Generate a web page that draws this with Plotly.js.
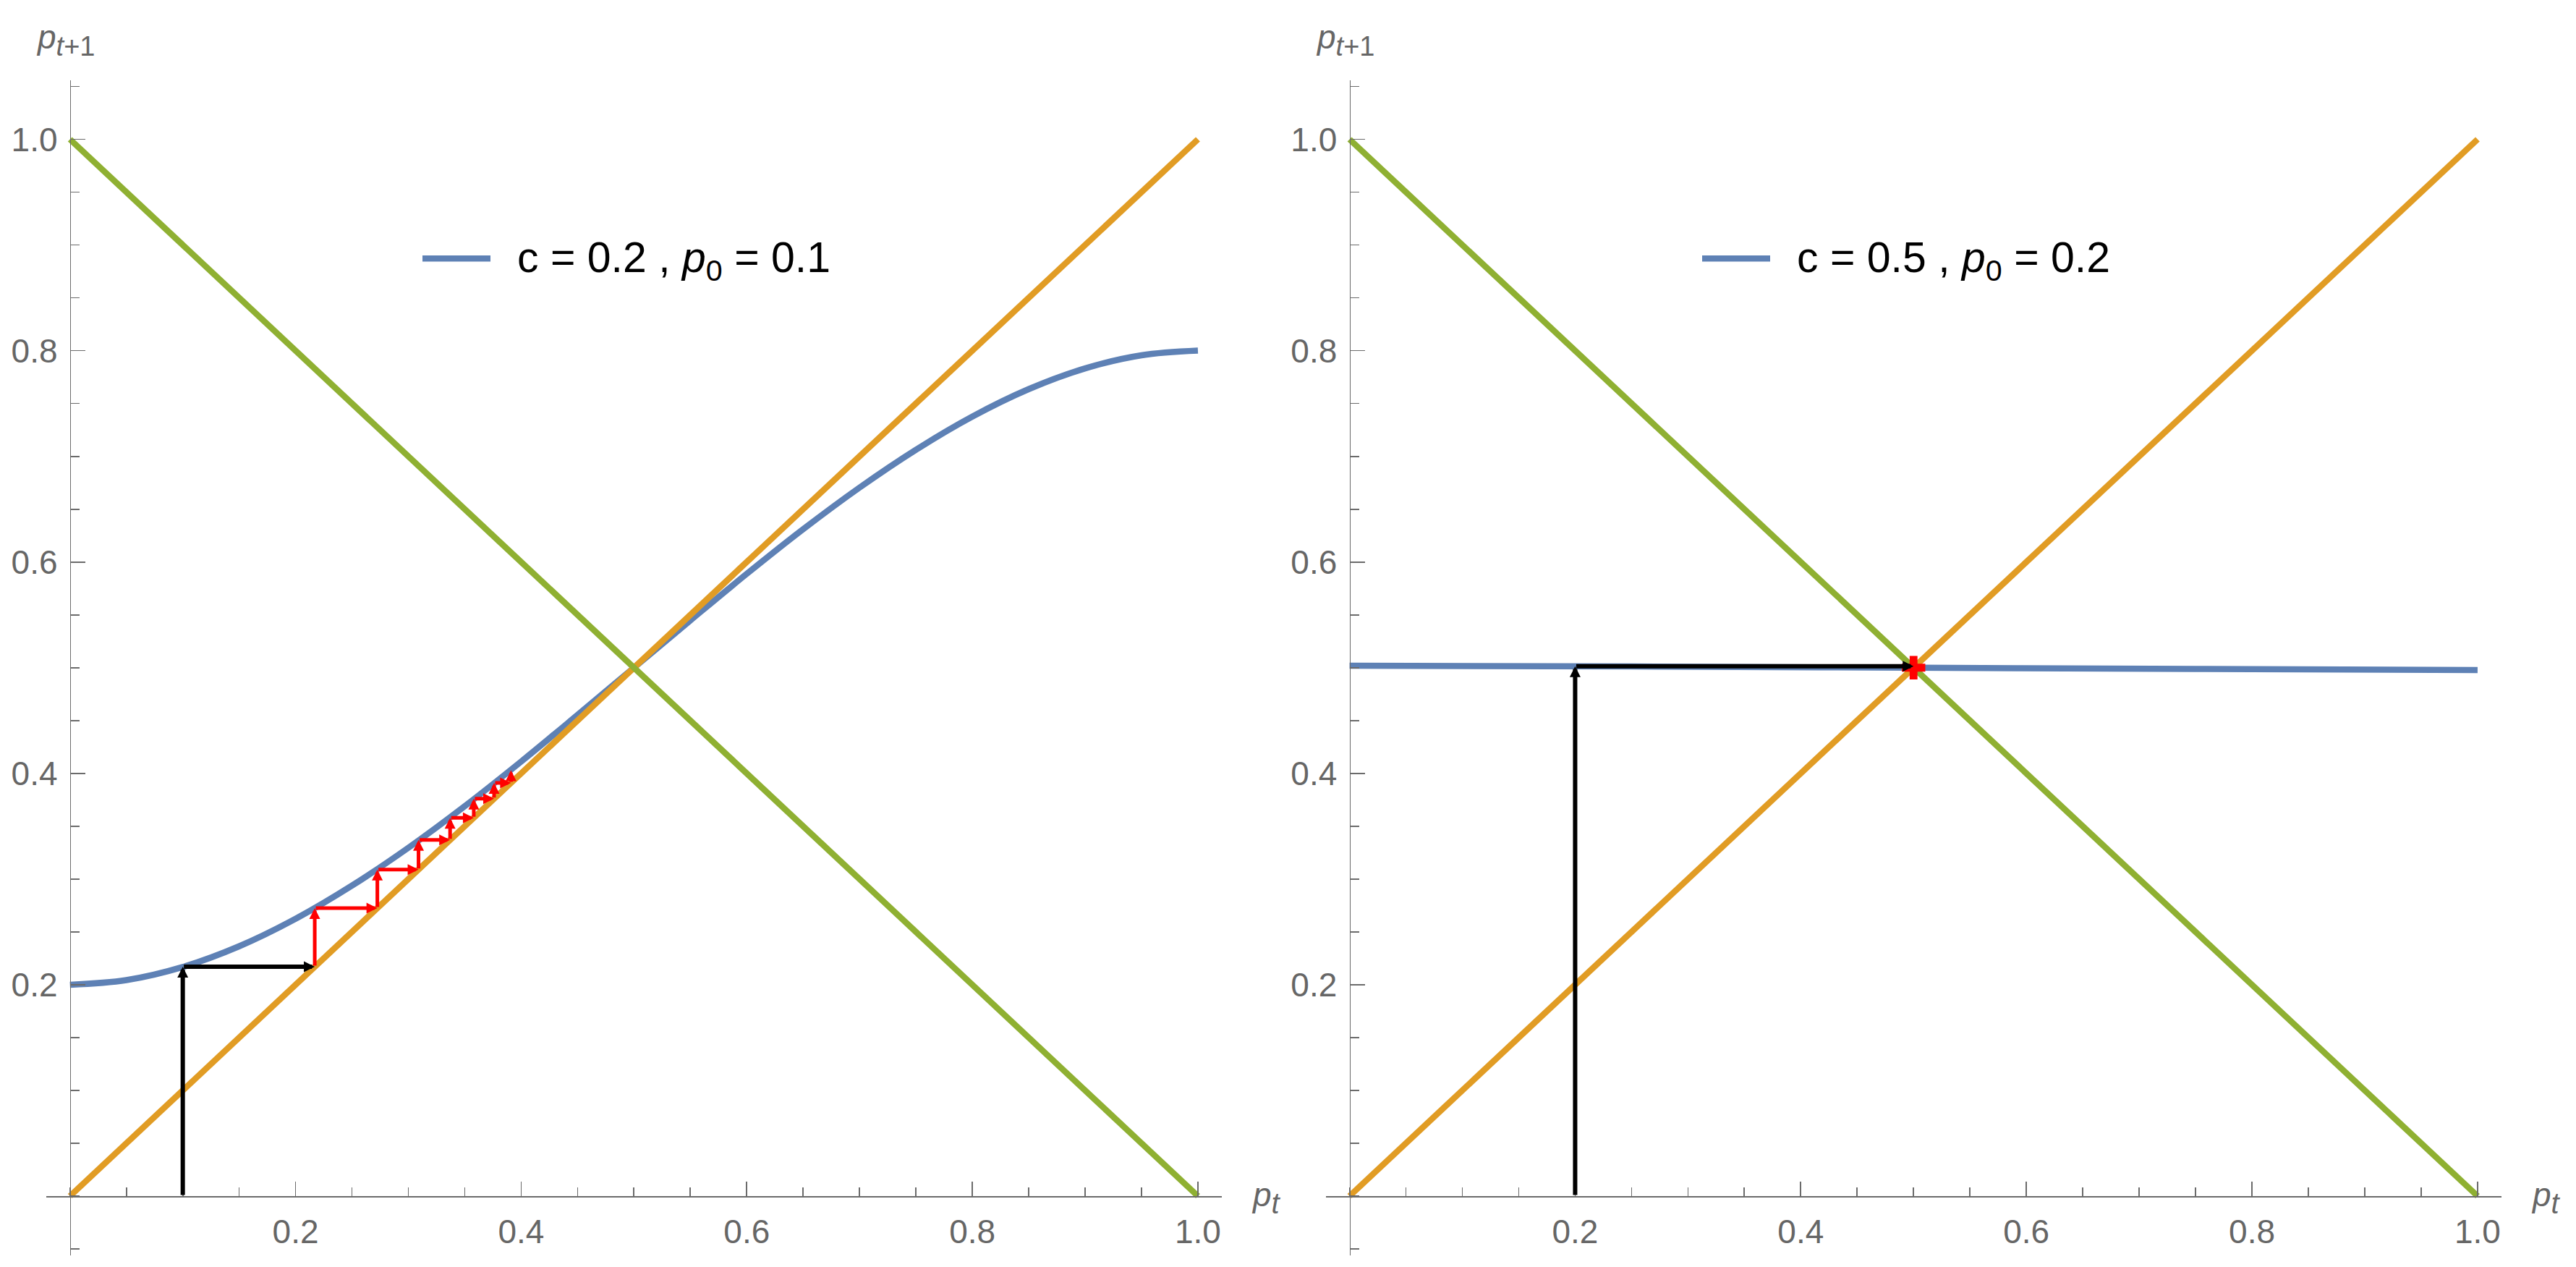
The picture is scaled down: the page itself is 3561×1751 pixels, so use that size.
<!DOCTYPE html>
<html>
<head>
<meta charset="utf-8">
<script src="https://cdn.plot.ly/plotly-3.0.1.min.js"></script>
<style>html,body{margin:0;padding:0;background:#fff;}</style>
</head>
<body>
<div id="chart" style="width:3561px;height:1751px;"></div>
<script>
// ---------------- data ----------------
// left panel: c = 0.2, p0 = 0.1
const leftX = [0, 0.05, 0.1, 0.15, 0.2, 0.25, 0.3, 0.35, 0.4, 0.45, 0.5, 0.55, 0.6, 0.65, 0.7, 0.75, 0.8, 0.85, 0.9, 0.95, 1.0];
const leftY = [0.2000, 0.2044, 0.2168, 0.2364, 0.2624, 0.2938, 0.3296, 0.3690, 0.4112, 0.4553, 0.5000,
               0.5447, 0.5888, 0.6310, 0.6704, 0.7062, 0.7376, 0.7636, 0.7832, 0.7956, 0.8000];
// right panel: c = 0.5, p0 = 0.2
const rightX = [0, 0.25, 0.5, 0.75, 1.0];
const rightY = [0.5018, 0.5012, 0.5000, 0.4988, 0.4978];
// identity and anti-diagonal
const diagX = [0, 1];
const diagY = [0, 1];
const antiY = [1, 0];
// cobweb paths
const blackLeftX = [0.1, 0.1, 0.217];
const blackLeftY = [0, 0.217, 0.217];
const redLeftX = [0.217, 0.217, 0.2725, 0.2725, 0.309, 0.309, 0.337, 0.337, 0.358, 0.358, 0.376, 0.376, 0.391, 0.391];
const redLeftY = [0.217, 0.2725, 0.2725, 0.309, 0.309, 0.337, 0.337, 0.358, 0.358, 0.376, 0.376, 0.391, 0.391, 0.403];
const blackRightX = [0.2, 0.2, 0.5];
const blackRightY = [0, 0.5014, 0.5014];
const fixedRightX = [0.5];
const fixedRightY = [0.5];
// ticks
const majorTicks = [0.2, 0.4, 0.6, 0.8, 1.0];
const majorLabels = ["0.2", "0.4", "0.6", "0.8", "1.0"];
const legendLeft = "c = 0.2 , <i>p</i><sub>0</sub> = 0.1";
const legendRight = "c = 0.5 , <i>p</i><sub>0</sub> = 0.2";

// ---------------- layout geometry ----------------
const W = 3561, H = 1751;
const xr = [-0.021, 1.021], yr = [-0.056, 1.056];
const BLUE = '#5E81B5', ORANGE = '#E19C24', GREEN = '#8FB032';
const AX = '#6b6b6b';
const LW = 8.5;

function px(v) { return v / W; }
function py(v) { return 1 - v / H; }

const yDom = [py(1734.8), py(110.7)];
const xDomL = [px(64.0), px(1688.7)];
const xDomR = [px(1832.8), px(3457.7)];
const xAxisPos = py(1653);
const yPosL = px(96.7), yPosR = px(1865.5);

function axisCommon(extra) {
  return Object.assign({
    showgrid: false, zeroline: false, showline: true,
    linecolor: AX, linewidth: 1.7,
    ticks: 'inside', ticklen: 20, tickwidth: 1.7, tickcolor: AX,
    tickmode: 'array', tickvals: majorTicks, ticktext: majorLabels,
    tickfont: {family: 'Liberation Sans, Arial, sans-serif', size: 46, color: '#666666'},
    minor: {ticks: 'inside', ticklen: 12, tickwidth: 1.7, tickcolor: AX, dtick: 0.05, tick0: 0, showgrid: false},
    automargin: false, fixedrange: true, anchor: 'free'
  }, extra);
}

function lineTrace(x, y, color, xa, ya) {
  return {x: x, y: y, type: 'scatter', mode: 'lines', xaxis: xa, yaxis: ya,
          line: {color: color, width: LW, shape: 'spline', smoothing: 1.0}, hoverinfo: 'skip', showlegend: false};
}

const traces = [
  lineTrace(leftX, leftY, BLUE, 'x', 'y'),
  lineTrace(diagX, diagY, ORANGE, 'x', 'y'),
  lineTrace(diagX, antiY, GREEN, 'x', 'y'),
  lineTrace(rightX, rightY, BLUE, 'x2', 'y2'),
  lineTrace(diagX, diagY, ORANGE, 'x2', 'y2'),
  lineTrace(diagX, antiY, GREEN, 'x2', 'y2'),
  {x: fixedRightX, y: fixedRightY, type: 'scatter', mode: 'markers', xaxis: 'x2', yaxis: 'y2',
   marker: {symbol: 'cross', size: 27, color: '#FF0000', line: {width: 0}}, hoverinfo: 'skip', showlegend: false}
];

const annotations = [];
function addArrows(X, Y, color, width, size, xa, ya) {
  for (let i = 0; i < X.length - 1; i++) {
    annotations.push({
      x: X[i + 1], y: Y[i + 1], ax: X[i], ay: Y[i],
      xref: xa, yref: ya, axref: xa, ayref: ya,
      showarrow: true, arrowhead: 2, arrowsize: size, arrowwidth: width,
      arrowcolor: color, standoff: 0, startstandoff: 0, text: ''
    });
  }
}
addArrows(blackLeftX, blackLeftY, '#000000', 6, 0.5, 'x', 'y');
addArrows(redLeftX, redLeftY, '#FF0000', 5, 0.6, 'x', 'y');
addArrows(blackRightX, blackRightY, '#000000', 6, 0.5, 'x2', 'y2');

const labFont = {family: 'Liberation Sans, Arial, sans-serif', size: 46, color: '#666666'};
const ylab = '<i>p</i><sub><span style="font-size:38px"><i>t</i>+1</span></sub>';
const xlab = '<i>p</i><sub><span style="font-size:40px"><i>t</i></span></sub>';
annotations.push({xref: 'paper', yref: 'paper', x: px(48), y: py(55), xanchor: 'left', yanchor: 'middle', text: ylab, showarrow: false, font: labFont});
annotations.push({xref: 'paper', yref: 'paper', x: px(1817), y: py(55), xanchor: 'left', yanchor: 'middle', text: ylab, showarrow: false, font: labFont});
annotations.push({xref: 'paper', yref: 'paper', x: px(1728), y: py(1655), xanchor: 'left', yanchor: 'middle', text: xlab, showarrow: false, font: labFont});
annotations.push({xref: 'paper', yref: 'paper', x: px(3497), y: py(1655), xanchor: 'left', yanchor: 'middle', text: xlab, showarrow: false, font: labFont});

const legFont = {family: 'Liberation Sans, Arial, sans-serif', size: 59, color: '#000000'};
annotations.push({xref: 'paper', yref: 'paper', x: px(713), y: py(360), xanchor: 'left', yanchor: 'middle', text: legendLeft, showarrow: false, font: legFont});
annotations.push({xref: 'paper', yref: 'paper', x: px(2482), y: py(360), xanchor: 'left', yanchor: 'middle', text: legendRight, showarrow: false, font: legFont});

const shapes = [
  {type: 'line', xref: 'paper', yref: 'paper', x0: px(584), x1: px(678), y0: py(357.3), y1: py(357.3), line: {color: BLUE, width: LW}},
  {type: 'line', xref: 'paper', yref: 'paper', x0: px(2353), x1: px(2447), y0: py(357.3), y1: py(357.3), line: {color: BLUE, width: LW}}
];

const layout = {
  width: W, height: H,
  margin: {l: 0, r: 0, t: 0, b: 0, pad: 0},
  paper_bgcolor: '#ffffff', plot_bgcolor: 'rgba(0,0,0,0)',
  showlegend: false,
  font: {family: 'Liberation Sans, Arial, sans-serif'},
  xaxis: axisCommon({domain: xDomL, range: xr, position: xAxisPos, ticklabelstandoff: 8}),
  yaxis: axisCommon({domain: yDom, range: yr, position: yPosL, ticklabelstandoff: 8}),
  xaxis2: axisCommon({domain: xDomR, range: xr, position: xAxisPos, ticklabelstandoff: 8}),
  yaxis2: axisCommon({domain: yDom, range: yr, position: yPosR, ticklabelstandoff: 8}),
  annotations: annotations,
  shapes: shapes
};

Plotly.newPlot('chart', traces, layout, {staticPlot: true, displayModeBar: false});
</script>
</body>
</html>
